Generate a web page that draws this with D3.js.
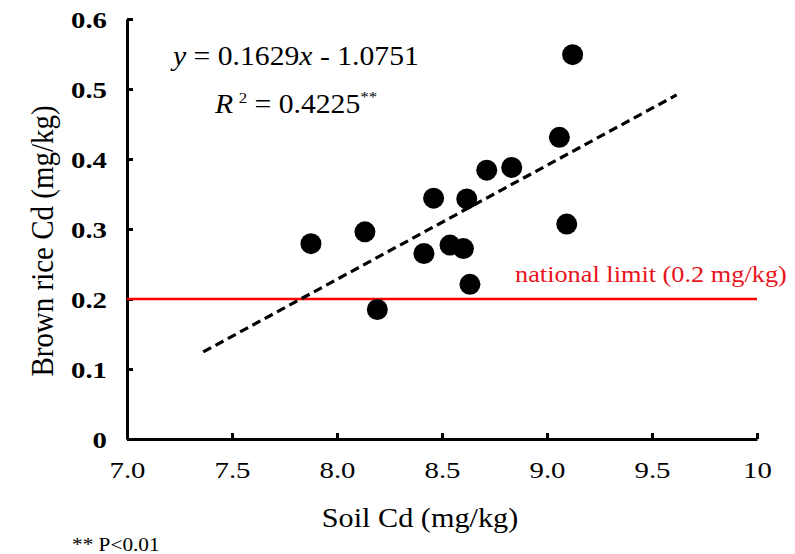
<!DOCTYPE html>
<html>
<head>
<meta charset="utf-8">
<script src="https://cdn.jsdelivr.net/npm/d3@7"></script>
<style>
  body { margin: 0; background: #fff; }
  svg text { font-family: "Liberation Serif", "Times New Roman", serif; }
</style>
</head>
<body>
<div id="chart"></div>
<script>
// soil Cd vs brown rice Cd
var soilCd = [7.876, 8.133, 8.192, 8.414, 8.460, 8.538, 8.602, 8.618, 8.633, 8.713, 8.832, 9.059, 9.094, 9.122];
var riceCd = [0.279, 0.296, 0.185, 0.265, 0.344, 0.277, 0.272, 0.343, 0.221, 0.384, 0.388, 0.431, 0.307, 0.549];
var xTicks = [7.0, 7.5, 8.0, 8.5, 9.0, 9.5, 10];
var yTicks = [0, 0.1, 0.2, 0.3, 0.4, 0.5, 0.6];
var slope = 0.1629, intercept = -1.0751;
var fitRange = [7.363, 9.617];
var limit = 0.2;

var width = 795, height = 554;
var stretch = 1.12; // the source figure's text is a bit wide
var svg = d3.select('#chart').append('svg')
  .attr('width', width)
  .attr('height', height);

var x = d3.scaleLinear().domain([7, 10]).range([127, 757]);
var y = d3.scaleLinear().domain([0, 0.6]).range([439, 19]);

// text placed with a horizontal stretch
function label(px, py, size, str, fill){
  return svg.append('text')
    .attr('transform', 'translate(' + px + ',' + py + ') scale(' + stretch + ',1)')
    .attr('font-size', size)
    .attr('fill', fill || '#000')
    .text(str);
}

// axes, ticks pointing inward
var xAxis = svg.append('g')
  .attr('transform', 'translate(0,' + y(0) + ')')
  .call(d3.axisBottom(x).tickValues(xTicks).tickSizeInner(-6).tickSizeOuter(0)
    .tickFormat(function(d){ return d === 10 ? '10' : d3.format('.1f')(d); }));
var yAxis = svg.append('g')
  .attr('transform', 'translate(' + x(7) + ',0)')
  .call(d3.axisLeft(y).tickValues(yTicks).tickSizeInner(-6).tickSizeOuter(0)
    .tickFormat(function(d){ return d === 0 ? '0' : d3.format('.1f')(d); }));

[xAxis, yAxis].forEach(function(a){
  a.select('.domain').attr('stroke', '#000').attr('stroke-width', 3);
  a.selectAll('.tick line').attr('stroke', '#000').attr('stroke-width', 3);
  a.selectAll('.tick text').attr('fill', '#000').attr('font-family', '"Liberation Serif", serif')
    .attr('font-size', 24).attr('x', 0).attr('y', 0);
});
xAxis.selectAll('.tick text')
  .attr('transform', 'translate(0,22) scale(1.2,1)').attr('dy', '0.71em');
yAxis.selectAll('.tick text').attr('font-weight', 'bold')
  .attr('transform', 'translate(-20,0) scale(1.2,1)').attr('dy', '0.35em');

// national limit
svg.append('line')
  .attr('x1', x(7)).attr('x2', x(10))
  .attr('y1', y(limit)).attr('y2', y(limit))
  .attr('stroke', '#ff0000').attr('stroke-width', 2.5);

label(515, 282, 23.5, 'national limit (0.2 mg/kg)', '#e8141c');

// regression line
svg.append('line')
  .attr('x1', x(fitRange[0])).attr('y1', y(slope * fitRange[0] + intercept))
  .attr('x2', x(fitRange[1])).attr('y2', y(slope * fitRange[1] + intercept))
  .attr('stroke', '#000').attr('stroke-width', 3.2)
  .attr('stroke-dasharray', '9,5');

// points
svg.selectAll('.pt')
  .data(soilCd.map(function(d, i){ return [d, riceCd[i]]; }))
  .enter().append('circle')
  .attr('class', 'pt')
  .attr('cx', function(d){ return x(d[0]); })
  .attr('cy', function(d){ return y(d[1]); })
  .attr('r', 10.5)
  .attr('fill', '#000');

// equation
var eq = label(173, 65, 26.5, '');
eq.append('tspan').attr('font-style', 'italic').text('y');
eq.append('tspan').text(' = 0.1629');
eq.append('tspan').attr('font-style', 'italic').text('x');
eq.append('tspan').text(' - 1.0751');

var r2 = label(215, 113, 26.5, '');
r2.append('tspan').attr('font-style', 'italic').text('R');
r2.append('tspan').attr('font-size', 15).attr('dy', -10).attr('dx', 5).text('2');
r2.append('tspan').attr('dy', 10).text(' = 0.4225');
r2.append('tspan').attr('font-size', 15).attr('dy', -11).text('**');

// axis titles
svg.append('text')
  .attr('transform', 'translate(53,241) rotate(-90) scale(1,' + stretch + ')')
  .attr('text-anchor', 'middle')
  .attr('font-size', 29)
  .attr('fill', '#000')
  .text('Brown rice Cd (mg/kg)');

label(420, 527, 27, 'Soil Cd (mg/kg)').attr('text-anchor', 'middle');

label(72, 551, 19, '** P<0.01');
</script>
</body>
</html>
